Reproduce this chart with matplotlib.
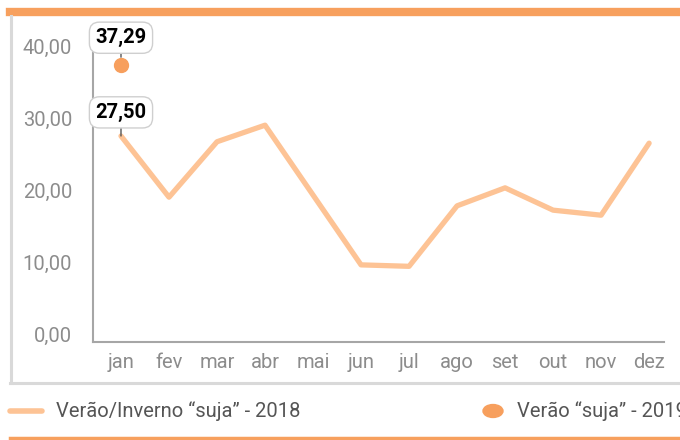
import matplotlib
matplotlib.use("Agg")
import matplotlib.pyplot as plt
from matplotlib.lines import Line2D
from matplotlib.patches import Circle

meses = ["jan", "fev", "mar", "abr", "mai", "jun", "jul", "ago", "set", "out", "nov", "dez"]
suja_2018 = [27.50, 19.0, 26.7, 29.0, 19.3, 9.6, 9.4, 17.8, 20.3, 17.2, 16.5, 26.5]
suja_2019 = [37.29]
yticks = [0, 10, 20, 30, 40]

cor_linha = "#FDC395"
cor_ponto = "#F79F5D"
cinza = "#8C8C8C"

plt.rcParams["font.family"] = ["Roboto", "DejaVu Sans"]

fig = plt.figure(figsize=(6.8, 4.4), dpi=100)
W, H = 680, 440
ax = fig.add_axes([93 / W, 98 / H, (664 - 93) / W, (342 - 40) / H])

x = list(range(len(meses)))
ax.plot(x, suja_2018, color=cor_linha, lw=3.8, solid_capstyle="round", zorder=3)
ax.plot([0], suja_2019, "o", color=cor_ponto, ms=10, zorder=4)

ax.set_xlim(-0.583, 11.31)
ax.set_ylim(-1.11, 40.83)
ax.set_xticks(x)
ax.set_xticklabels(meses)
ax.set_yticks(yticks)
ax.set_yticklabels([f"{v:.2f}".replace(".", ",") for v in yticks])
ax.tick_params(length=0, labelsize=14.5, colors=cinza, pad=8)
ax.tick_params(axis="y", pad=15)
for s in ["top", "right"]:
    ax.spines[s].set_visible(False)
for s in ["left", "bottom"]:
    ax.spines[s].set_color("#A6A6A6")
    ax.spines[s].set_linewidth(1.5)

caixa = dict(boxstyle="round,pad=0.3,rounding_size=0.5", fc="white", ec="#CFCFCF", lw=1)
for val, dy in [(suja_2019[0], 20), (suja_2018[0], 17)]:
    ax.annotate(f"{val:.2f}".replace(".", ","), xy=(0, val), xytext=(0, dy),
                textcoords="offset points", ha="center", va="center",
                fontsize=14.5, fontweight="bold", color="black", bbox=caixa,
                arrowprops=dict(arrowstyle="-", color="#555555", lw=1,
                                shrinkA=0, shrinkB=6), zorder=5)

# moldura
fig.add_artist(Line2D([10 / W, 1], [1 - 12 / H] * 2, color="#F7A05E", lw=6))
fig.add_artist(Line2D([11 / W] * 2, [1 - 16 / H, 1 - 383 / H], color="#D9D9D9", lw=2.2))
fig.add_artist(Line2D([10 / W, 1], [1 - 383 / H] * 2, color="#D9D9D9", lw=2.2))
fig.add_artist(Line2D([10 / W, 1], [1 - 438 / H] * 2, color="#F7A05E", lw=2.5))

# legenda
fig.add_artist(Line2D([10 / W, 42 / W], [1 - 411 / H] * 2, color=cor_linha, lw=4,
                      solid_capstyle="round"))
fig.text(56 / W, 1 - 411 / H, "Verão/Inverno “suja” - 2018", fontsize=14.5,
         color="#555555", va="center")
fig.add_artist(Circle((493 / W, 1 - 411 / H), 10 / W, color=cor_ponto,
                      transform=fig.transFigure))
fig.text(517 / W, 1 - 411 / H, "Verão “suja” - 2019", fontsize=14.5,
         color="#555555", va="center")

fig.savefig("out.png", dpi=100)
